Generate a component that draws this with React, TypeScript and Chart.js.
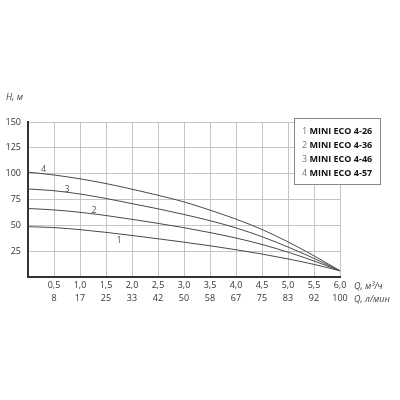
import React, { useEffect, useRef } from "react";
import { Chart, registerables } from "chart.js";

Chart.register(...registerables);

const flowM3h = [0, 0.5, 1.0, 1.5, 2.0, 2.5, 3.0, 3.5, 4.0, 4.5, 5.0, 5.5, 6.0];
const tickM3h = ["0,5", "1,0", "1,5", "2,0", "2,5", "3,0", "3,5", "4,0", "4,5", "5,0", "5,5", "6,0"];
const tickLmin = ["8", "17", "25", "33", "42", "50", "58", "67", "75", "83", "92", "100"];

const head1 = [48.7, 47.8, 45.8, 43.2, 40.2, 37.0, 33.7, 30.2, 26.4, 22.2, 17.5, 12.2, 6.0];
const head2 = [66.3, 64.9, 62.6, 59.5, 55.8, 51.9, 47.7, 43.0, 37.7, 31.5, 24.0, 15.5, 6.0];
const head3 = [85.2, 83.5, 80.3, 76.0, 71.0, 66.0, 60.5, 54.5, 47.5, 39.0, 29.0, 18.0, 6.0];
const head4 = [101.5, 98.7, 95.0, 90.4, 85.0, 79.1, 72.7, 64.7, 56.0, 46.0, 34.0, 20.5, 6.0];

const seriesNames = ["MINI ECO 4-26", "MINI ECO 4-36", "MINI ECO 4-46", "MINI ECO 4-57"];
const seriesNums = ["1", "2", "3", "4"];
// label anchor positions (Q, H) for curve numbers
const labelQ = [1.75, 1.27, 0.75, 0.3];
const labelH = [35, 64, 85, 104];

const FONT = "'Open Sans', 'DejaVu Sans', sans-serif";

const decorPlugin = {
  id: "decor",
  afterDraw(chart: any) {
    const ctx = chart.ctx;
    const x = chart.scales.x;
    const y = chart.scales.y;
    const area = chart.chartArea;
    ctx.save();
    ctx.font = `italic 9px ${FONT}`;
    ctx.fillStyle = "#444";
    ctx.textAlign = "left";
    ctx.textBaseline = "middle";
    ctx.fillText("H, м", 6, 97);
    ctx.fillText("Q, м³/ч", area.right + 14, 286);
    ctx.fillText("Q, л/мин", area.right + 14, 299);
    ctx.font = `9px ${FONT}`;
    ctx.fillStyle = "#555";
    ctx.textAlign = "center";
    for (let i = 0; i < 4; i++) {
      ctx.fillText(seriesNums[i], x.getPixelForValue(labelQ[i]), y.getPixelForValue(labelH[i]));
    }
    const bx = 294, by = 118, bw = 86, bh = 66;
    ctx.fillStyle = "#fff";
    ctx.fillRect(bx, by, bw, bh);
    ctx.strokeStyle = "#888";
    ctx.lineWidth = 1;
    ctx.strokeRect(bx + 0.5, by + 0.5, bw, bh);
    ctx.textAlign = "left";
    for (let i = 0; i < 4; i++) {
      const ty = 131 + i * 14;
      ctx.font = `9px ${FONT}`;
      ctx.fillStyle = "#777";
      ctx.fillText(seriesNums[i], 302, ty);
      const w = ctx.measureText(seriesNums[i] + " ").width;
      ctx.font = `bold 9px ${FONT}`;
      ctx.fillStyle = "#111";
      ctx.fillText(seriesNames[i], 302 + w, ty);
    }
    ctx.restore();
  },
};

export default function App() {
  const ref = useRef<HTMLCanvasElement>(null);
  useEffect(() => {
    const heads = [head1, head2, head3, head4];
    const chart = new Chart(ref.current!, {
      type: "line",
      data: {
        datasets: heads.map((h, i) => ({
          label: seriesNames[i],
          data: flowM3h.map((q, j) => ({ x: q, y: h[j] })),
          borderColor: "#4a4a4a",
          borderWidth: 1,
          pointRadius: 0,
          fill: false,
          cubicInterpolationMode: "monotone" as const,
        })),
      },
      options: {
        animation: false,
        responsive: false,
        maintainAspectRatio: false,
        layout: { padding: { left: 0, right: 60, top: 122, bottom: 83 } },
        plugins: { legend: { display: false }, tooltip: { enabled: false } },
        scales: {
          x: {
            type: "linear",
            min: 0,
            max: 6,
            afterFit: (s: any) => { s.height = 40; },
            grid: { color: "#c4c4c4", lineWidth: 1, drawTicks: false },
            border: { color: "#333", width: 2 },
            ticks: {
              stepSize: 0.5,
              padding: 2,
              color: "#333",
              font: { family: FONT, size: 9, lineHeight: 1.45 },
              maxRotation: 0,
              autoSkip: false,
              callback: (v: any) => {
                const idx = Math.round(Number(v) / 0.5) - 1;
                if (idx < 0) return "";
                return [tickM3h[idx], tickLmin[idx]];
              },
            },
          },
          y: {
            min: 0,
            max: 150,
            afterFit: (s: any) => { s.width = 28; },
            grid: { color: "#c4c4c4", lineWidth: 1, drawTicks: false },
            border: { color: "#333", width: 2 },
            ticks: {
              stepSize: 25,
              padding: 7,
              color: "#333",
              font: { family: FONT, size: 9 },
              callback: (v: any) => (Number(v) === 0 ? "" : String(v)),
            },
          },
        },
      },
      plugins: [decorPlugin],
    });
    return () => chart.destroy();
  }, []);
  return (
    <div style={{ position: "fixed", left: 0, top: 0, width: 400, height: 400, background: "#fff" }}>
      <canvas ref={ref} width={400} height={400} style={{ width: 400, height: 400 }} />
    </div>
  );
}
